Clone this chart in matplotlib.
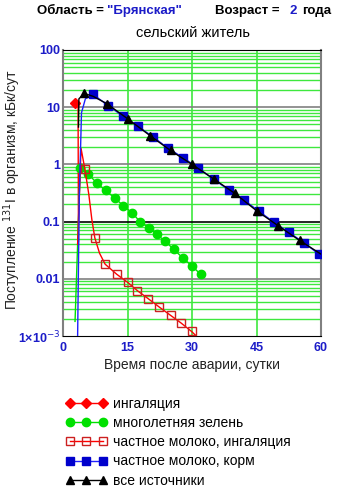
import numpy as np
import matplotlib
matplotlib.use('Agg')
import matplotlib.pyplot as plt

plt.rcParams['font.family'] = ['Liberation Sans', 'DejaVu Sans']

# data (days after accident, kBq/day)
inh_days = [2.8, 3.5, 3.6]
inh_vals = [12.0, 12.6, 0.045]

green_days = [2.8, 4.0, 5.9, 7.8, 9.9, 12.0, 14.0, 16.0, 17.9, 19.9, 21.8, 23.8, 25.7, 27.9, 29.9, 32.0]
green_vals = [0.0018, 0.88, 0.67, 0.48, 0.35, 0.26, 0.19, 0.144, 0.10, 0.078, 0.06, 0.045, 0.033, 0.023, 0.017, 0.012]

milk_inh_days = [3.4, 4.2, 5.1, 6.0, 6.7, 7.4, 8.5, 9.8, 12.5, 15.0, 17.3, 19.8, 22.4, 25.0, 27.4, 29.9, 31.0]
milk_inh_vals = [0.04, 1.9, 0.82, 0.3, 0.11, 0.052, 0.028, 0.018, 0.012, 0.0087, 0.0062, 0.0045, 0.0032, 0.0023, 0.0017, 0.0012, 0.001]

milk_feed_days = [3.4, 3.8, 4.3, 5.2, 7.0, 10.5, 14.0, 17.5, 21.0, 24.5, 28.0, 31.5, 35.0, 38.5, 42.0, 45.5, 49.0, 52.5, 56.0, 59.5, 60.0]
milk_feed_vals = [0.001, 0.3, 8.0, 14.0, 16.7, 10.7, 6.9, 4.6, 3.0, 1.9, 1.3, 0.86, 0.55, 0.36, 0.24, 0.153, 0.098, 0.065, 0.043, 0.027, 0.026]

total_days = [3.6, 3.7, 4.9, 7.0, 10.2, 15.0, 20.2, 25.0, 30.0, 35.0, 40.0, 45.0, 50.0, 55.0, 60.0]
total_vals = [4.5, 14.0, 17.4, 15.5, 11.5, 6.3, 3.2, 1.75, 1.0, 0.56, 0.31, 0.155, 0.085, 0.047, 0.027]

x_ticks = [0, 15, 30, 45, 60]
y_ticks = [1e-3, 0.01, 0.1, 1, 10, 100]
y_labels = ['1×10$^{-3}$', '0.01', '0.1', '1', '10', '100']

legend_labels = ['ингаляция', 'многолетняя зелень', 'частное молоко, ингаляция',
                 'частное молоко, корм', 'все источники']

tick_blue = '#1c1cc8'
grid_green = '#3ee83e'

fig = plt.figure(figsize=(3.49, 4.88), dpi=100)
ax = fig.add_axes([63/349, 1-336/488, 258/349, 286/488])
ax.set_yscale('log')
ax.set_xlim(0, 60)
ax.set_ylim(1e-3, 100)

# grid: green minor lines, grey/black decades
for dec in [1e-3, 1e-2, 1e-1, 1, 10]:
    for k in range(2, 10):
        ax.axhline(dec*k, color=grid_green, lw=1.0, zorder=0)
for d, c in [(0.01, '#808080'), (0.1, 'black'), (1, '#808080'), (10, '#808080')]:
    ax.axhline(d, color=c, lw=1.2, zorder=0.5)
for xv in [15, 30, 45]:
    ax.axvline(xv, color=grid_green, lw=1.2, zorder=0)

ms = 5.5
l1, = ax.plot(inh_days, inh_vals, color='red', lw=1, marker='D', ms=ms,
              markevery=[0], label=legend_labels[0], zorder=3)
l2, = ax.plot(green_days, green_vals, color='#00e000', lw=1, marker='o', ms=ms+0.5,
              markevery=list(range(1, len(green_days))), label=legend_labels[1], zorder=3)
l3, = ax.plot(milk_inh_days, milk_inh_vals, color='red', lw=1, marker='s', ms=ms+0.5,
              mfc='none', mec='#cc2020', markevery=[2, 5] + list(range(7, 16)),
              label=legend_labels[2], zorder=4)
l4, = ax.plot(milk_feed_days, milk_feed_vals, color='#2020ff', lw=1, marker='s', ms=ms+0.5,
              mfc='#0000cc', mec='#0000cc', markevery=list(range(4, 20)),
              label=legend_labels[3], zorder=5)
l5, = ax.plot(total_days, total_vals, color='black', lw=1, marker='^', ms=ms+0.5,
              markevery=[2, 4] + list(range(5, 14)), label=legend_labels[4], zorder=6)

ax.set_xticks(x_ticks)
ax.set_xticklabels([str(t) for t in x_ticks])
ax.set_yticks(y_ticks)
ax.set_yticklabels(y_labels)
ax.minorticks_off()
ax.tick_params(length=0, labelsize=9, labelcolor=tick_blue, pad=2)
for lab in ax.get_xticklabels() + ax.get_yticklabels():
    lab.set_fontweight('bold')
ax.tick_params(axis='x', pad=4)

ax.spines['left'].set_color('#808080')
ax.spines['right'].set_color('#808080')
ax.spines['left'].set_linewidth(1.5)
ax.spines['right'].set_linewidth(1.5)
ax.spines['top'].set_color('black')
ax.spines['bottom'].set_color('black')

ax.set_xlabel('Время после аварии, сутки', fontsize=10, color='#222222', labelpad=3)
fig.text(12/349, 1-190/488, 'Поступление $^{131}$I в организм, кБк/сут', rotation=90,
         ha='center', va='center', fontsize=10, color='#222222')

# title pieces
ty = 1 - 11/488
fig.text(37/349, ty, 'Область =', fontsize=9.5, fontweight='bold', va='center')
fig.text(107/349, ty, '"Брянская"', fontsize=9.5, fontweight='bold', color='#1c1cc8', va='center')
fig.text(215/349, ty, 'Возраст =', fontsize=9.5, fontweight='bold', va='center')
fig.text(290/349, ty, '2', fontsize=9.5, fontweight='bold', color='#1c1cc8', va='center')
fig.text(302/349, ty, 'года', fontsize=9.5, fontweight='bold', va='center')
fig.text(193/349, 1-33/488, 'сельский житель', fontsize=10.5, ha='center', va='center')

fig.legend(handles=[l1, l2, l3, l4, l5], loc='upper left',
           bbox_to_anchor=(60/349, 1-391/488), frameon=False, fontsize=10,
           numpoints=3, handlelength=3.0, handletextpad=0.4, labelspacing=0.38,
           borderaxespad=0)

fig.savefig('out.png', dpi=100)
